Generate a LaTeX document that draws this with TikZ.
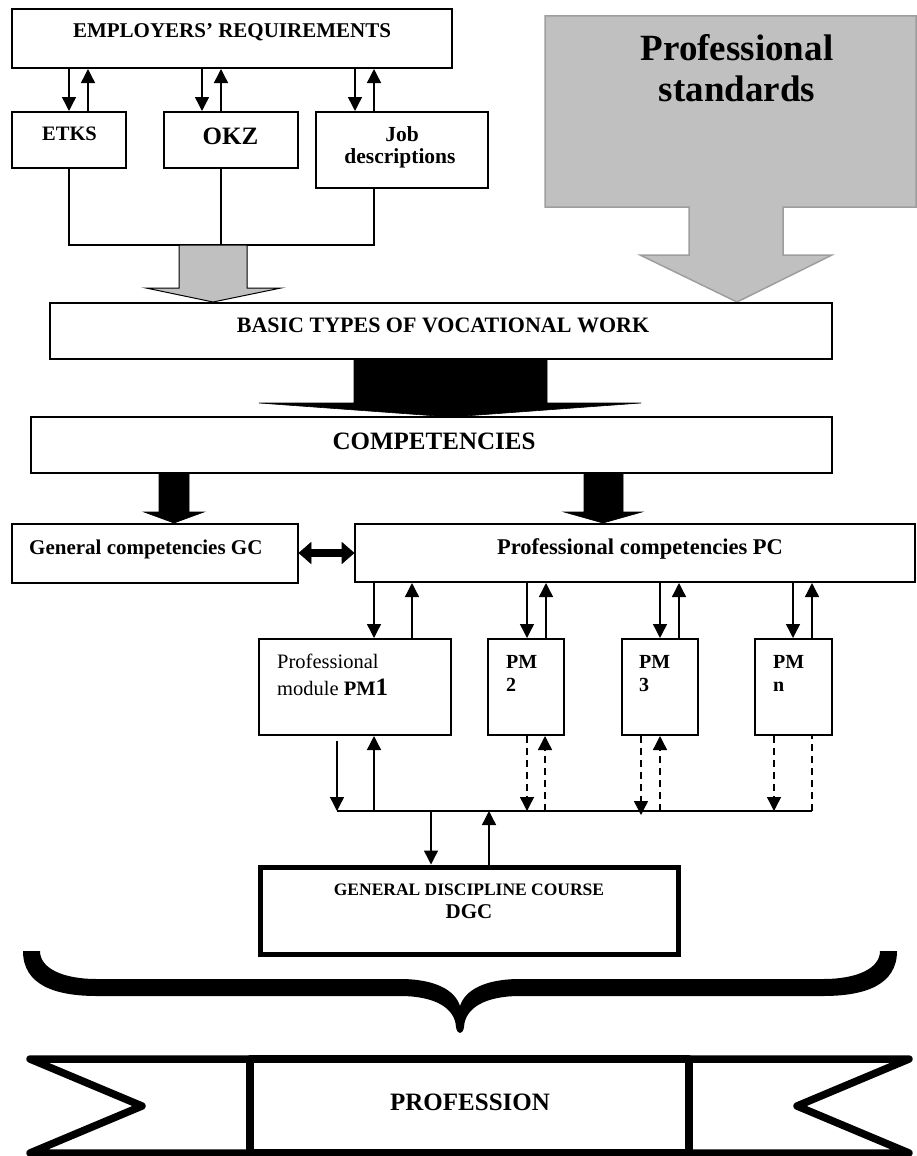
\documentclass[tikz,border=0pt]{standalone}
\usepackage{fontspec}
\setmainfont{Liberation Serif}
\usetikzlibrary{arrows.meta}

\definecolor{panelgray}{HTML}{C0C0C0}
\definecolor{edgegray}{HTML}{9E9E9E}

\newcommand\setfs[1]{\fontsize{#1}{#1}\selectfont}

\tikzset{
  box/.style={draw, line width=2pt, inner sep=0pt},
  lbl/.style={inner sep=0pt, anchor=base, font=\bfseries},
  lblw/.style={inner sep=0pt, anchor=base west},
  conn/.style={line width=1.4pt, -{Triangle[width=14pt,length=14pt]}},
  link/.style={line width=1.4pt},
  dashconn/.style={conn, dash pattern=on 7pt off 5pt},
  dashlink/.style={link, dash pattern=on 7pt off 5pt},
  blockarrow/.style={fill=black, draw=black, line width=0.6pt, line join=miter},
  grayarrow/.style={fill=panelgray, draw=black, line width=1pt, line join=miter},
  ribbon/.style={line width=7.5pt, line join=round},
}

\begin{document}
\begin{tikzpicture}[x=1pt,y=-1pt]
\useasboundingbox (0,0) rectangle (917,1156);

% ---------- professional standards callout ----------
\draw[fill=panelgray, draw=edgegray, line width=1.5pt, line join=miter]
  (545,16) -- (916,16) -- (916,207) -- (783,207) -- (783,255) -- (832,255)
  -- (737,302) -- (640,255) -- (689,255) -- (689,207) -- (545,207) -- cycle;
\node[lbl, font=\bfseries\setfs{37}] (ps1) at (737,60) {Professional};
\node[lbl, font=\bfseries\setfs{37}] (ps2) at (737,101) {standards};

% ---------- employers' requirements and sources ----------
\node[box, minimum width=440pt, minimum height=59pt] (er) at (232,38.5) {};
\node[lbl, font=\bfseries\setfs{21}] (ertxt) at (232,37.7) {EMPLOYERS’ REQUIREMENTS};

\node[box, minimum width=114pt, minimum height=56pt] (etks) at (69,140) {};
\node[lbl, font=\bfseries\setfs{20.5}] (etkstxt) at (69.5,140) {ETKS};

\node[box, minimum width=134pt, minimum height=56pt] (okz) at (231,140) {};
\node[lbl, font=\bfseries\setfs{25}] (okztxt) at (230.5,144) {OKZ};

\node[box, minimum width=172pt, minimum height=76pt] (job) at (402,150) {};
\node[lbl, font=\bfseries\setfs{21.5}] (jobtxt1) at (402,141) {Job};
\node[lbl, font=\bfseries\setfs{21.5}] (jobtxt2) at (400,163) {descriptions};

% columns of the two-way links
\coordinate (etkup) at (88,0);
\coordinate (okzdn) at (202,0);
\coordinate (okzup) at (221,0);
\coordinate (jobdn) at (355,0);
\coordinate (jobup) at (374,0);

\draw[conn] (er.south -| etks.north) -- (etks.north);
\draw[conn] (etkup |- etks.north) -- (etkup |- er.south);
\draw[conn] (okzdn |- er.south) -- (okzdn |- okz.north);
\draw[conn] (okzup |- okz.north) -- (okzup |- er.south);
\draw[conn] (jobdn |- er.south) -- (jobdn |- job.north);
\draw[conn] (jobup |- job.north) -- (jobup |- er.south);

% collecting line
\coordinate (hubL) at (69,245);
\coordinate (hubR) at (374,245);
\draw[link] (etks.south) -- (hubL) -- (hubR) -- (jobup |- job.south);
\draw[link] (okzup |- okz.south) -- (okzup |- hubL);

% gray arrow into the vocational work box
\draw[grayarrow] (179,245) -- (179,288) -- (146,288) -- (213,302) -- (281,288)
  -- (247,288) -- (247,245) -- cycle;

% ---------- vocational work and competencies ----------
\node[box, minimum width=782pt, minimum height=56pt] (basic) at (441,331) {};
\node[lbl, font=\bfseries\setfs{22}] (basictxt) at (443,332) {BASIC TYPES OF VOCATIONAL WORK};

\draw[blockarrow] (354,359) -- (354,403) -- (259,403) -- (451,417) -- (641,403)
  -- (547,403) -- (547,359) -- cycle;

\node[box, minimum width=801pt, minimum height=56pt] (comp) at (431.5,445) {};
\node[lbl, font=\bfseries\setfs{25}] (comptxt) at (434,449) {COMPETENCIES};

\draw[blockarrow] (159,473) -- (159,512) -- (144,512) -- (174,523) -- (204,512)
  -- (189,512) -- (189,473) -- cycle;
\draw[blockarrow] (584,473) -- (584,512) -- (564,512) -- (603,523) -- (642,512)
  -- (623,512) -- (623,473) -- cycle;

\node[box, minimum width=286pt, minimum height=59pt] (gc) at (155,553.5) {};
\node[lblw, font=\bfseries\setfs{21}] (gctxt) at (29,554) {General competencies GC};

\node[box, minimum width=560pt, minimum height=58pt] (pc) at (635,553) {};
\node[lbl, font=\bfseries\setfs{22.5}] (pctxt) at (640,554) {Professional competencies PC};

% two-way link between GC and PC
\draw[blockarrow] (gc.east |- 0,553) -- (311,542.5) -- (311,549.5) -- (342,549.5)
  -- (342,542.5) -- (pc.west |- 0,553) -- (342,563.5) -- (342,556.5) -- (311,556.5)
  -- (311,563.5) -- cycle;

% ---------- professional modules ----------
\node[box, minimum width=192pt, minimum height=96pt] (pm1) at (355,687) {};
\node[lblw, font=\setfs{20.5}] (pm1a) at (277,668) {Professional};
\node[lblw, font=\setfs{20.5}] (pm1b) at (277,695) {module \textbf{PM}{\setfs{25}\textbf{1}}};

\node[box, minimum width=76pt, minimum height=96pt] (pm2) at (526,687) {};
\node[lblw, font=\bfseries\setfs{20}] (pm2a) at (506,668) {PM};
\node[lblw, font=\bfseries\setfs{20}] (pm2b) at (506,691) {2};

\node[box, minimum width=76pt, minimum height=96pt] (pm3) at (660,687) {};
\node[lblw, font=\bfseries\setfs{20}] (pm3a) at (639,668) {PM};
\node[lblw, font=\bfseries\setfs{20}] (pm3b) at (639,691) {3};

\node[box, minimum width=77pt, minimum height=96pt] (pmn) at (793.5,687) {};
\node[lblw, font=\bfseries\setfs{20}] (pmna) at (773,668) {PM};
\node[lblw, font=\bfseries\setfs{20}] (pmnb) at (773,691) {n};

% links between PC and the modules
\coordinate (m1dn) at (374,0);  \coordinate (m1up) at (412,0);
\coordinate (m2dn) at (527,0);  \coordinate (m2up) at (546,0);
\coordinate (m3dn) at (660,0);  \coordinate (m3up) at (679,0);
\coordinate (mndn) at (793,0);  \coordinate (mnup) at (812,0);

\draw[conn] (m1dn |- pc.south) -- (m1dn |- pm1.north);
\draw[conn] (m1up |- pm1.north) -- (m1up |- pc.south);
\draw[conn] (m2dn |- pc.south) -- (m2dn |- pm2.north);
\draw[conn] (m2up |- pm2.north) -- (m2up |- pc.south);
\draw[conn] (m3dn |- pc.south) -- (m3dn |- pm3.north);
\draw[conn] (m3up |- pm3.north) -- (m3up |- pc.south);
\draw[conn] (mndn |- pc.south) -- (mndn |- pmn.north);
\draw[conn] (mnup |- pmn.north) -- (mnup |- pc.south);

% ---------- common bus towards the discipline course ----------
\coordinate (b1dn) at (337,811);
\coordinate (b1up) at (374,811);
\coordinate (b2dn) at (527,811);
\coordinate (b2up) at (545,811);
\coordinate (b3dn) at (641,815);
\coordinate (b3up) at (660,811);
\coordinate (bndn) at (774,811);
\coordinate (bnup) at (812,811);
\coordinate (bdgdn) at (431,811);
\coordinate (bdgup) at (489,811);

\draw[link] (b1dn) -- (bnup);

\draw[conn] (337,741) -- (b1dn);
\draw[conn] (b1up) -- (b1up |- pm1.south);
\draw[dashconn] (b2dn |- pm2.south) -- (b2dn);
\draw[dashconn] (b2up) -- (b2up |- pm2.south);
\draw[dashconn] (b3dn |- pm3.south) -- (b3dn);
\draw[dashconn] (b3up) -- (b3up |- pm3.south);
\draw[dashconn] (bndn |- pmn.south) -- (bndn);
\draw[dashlink] (bnup) -- (bnup |- pmn.south);

\node[draw, line width=5pt, inner sep=0pt, minimum width=418pt, minimum height=87pt] (dgc) at (469,910.5) {};
\node[lbl, font=\bfseries\setfs{17.5}] (dgca) at (469,895) {GENERAL DISCIPLINE COURSE};
\node[lbl, font=\bfseries\setfs{21}] (dgcb) at (469,918) {DGC};

\draw[conn] (bdgdn) -- (bdgdn |- dgc.north);
\draw[conn] (bdgup |- dgc.north) -- (bdgup);

% ---------- curly brace ----------
\fill[black]
  (23,951) .. controls (23,985) and (55,996) .. (97,996)
  -- (400,996) .. controls (435,996) and (455,1008) .. (456,1027)
  .. controls (457,1035) and (463,1035) .. (464,1027)
  .. controls (465,1008) and (485,996) .. (520,996)
  -- (823,996) .. controls (865,996) and (897,985) .. (897,951)
  -- (880,951) .. controls (880,968) and (858,979) .. (823,979)
  -- (520,979) .. controls (485,979) and (465,990) .. (460,1006)
  .. controls (455,990) and (435,979) .. (400,979)
  -- (97,979) .. controls (62,979) and (40,968) .. (40,951) -- cycle;

% ---------- profession ribbon ----------
\node[draw, ribbon, inner sep=0pt, outer sep=0pt, minimum width=439pt, minimum height=94pt] (prof) at (469.5,1106) {};
\node[lbl, font=\bfseries\setfs{25}] (proftxt) at (470,1110) {PROFESSION};
\draw[ribbon] (prof.north west) -- (30,1059) -- (142,1106) -- (30,1153) -- (prof.south west);
\draw[ribbon] (prof.north east) -- (909,1059) -- (797,1106) -- (909,1153) -- (prof.south east);

\end{tikzpicture}
\end{document}
